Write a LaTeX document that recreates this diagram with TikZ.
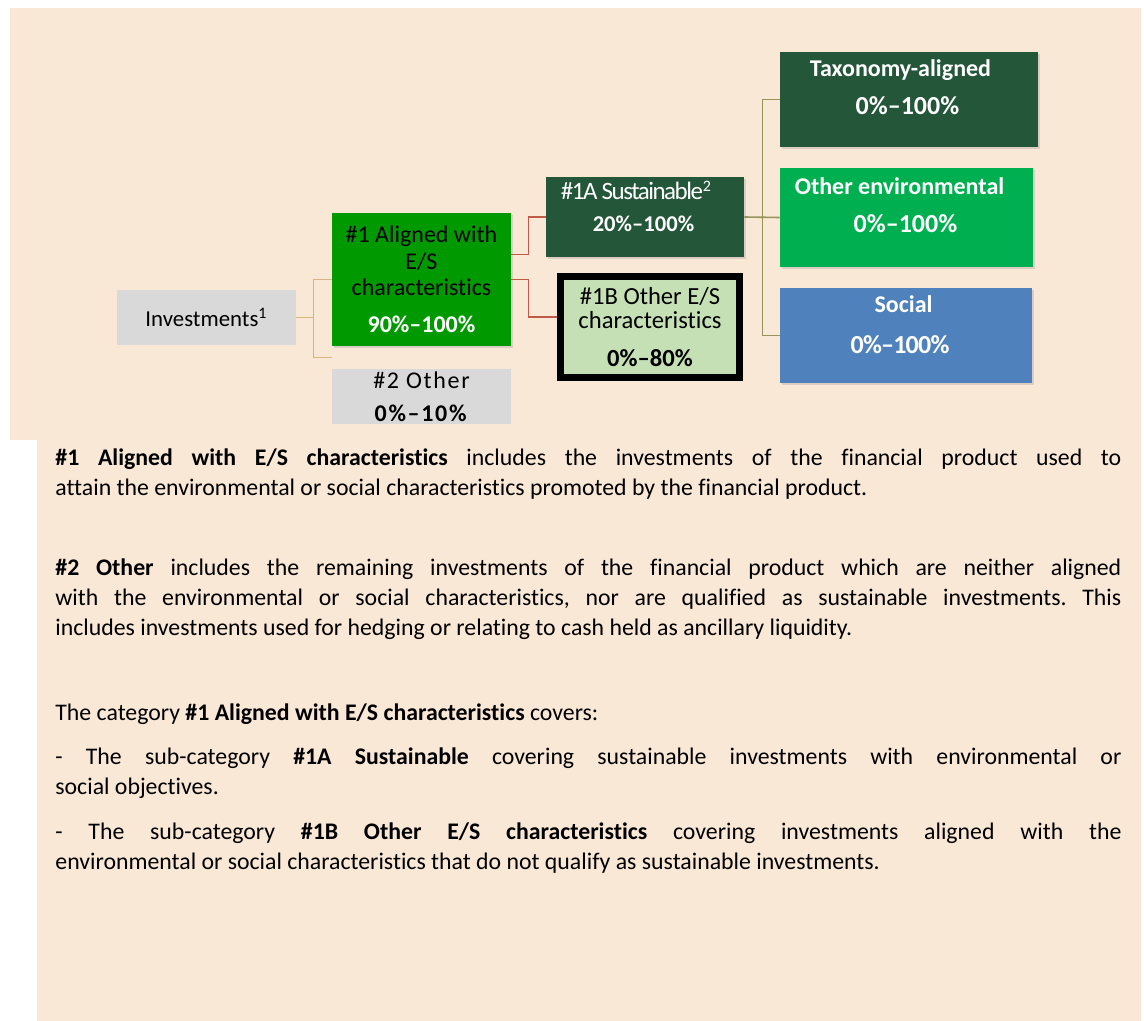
\documentclass[tikz,border=0pt]{standalone}
\usepackage{fontspec}
\setmainfont{Carlito}[Ligatures={TeX,NoCommon}]
\usetikzlibrary{positioning, calc, shadows}
\definecolor{pagebg}{RGB}{250, 232, 215}
\definecolor{greyfill}{RGB}{217, 217, 217}
\definecolor{alignedbg}{RGB}{0, 153, 0}
\definecolor{darkgreen}{RGB}{36, 86, 57}
\definecolor{envgreen}{RGB}{0, 176, 80}
\definecolor{socialblue}{RGB}{79, 129, 189}
\definecolor{otherbg}{RGB}{197, 224, 180}
\definecolor{tanline}{RGB}{214, 182, 128}
\definecolor{redline}{RGB}{190, 90, 70}
\definecolor{oliveline}{RGB}{150, 148, 90}
\tikzset{
    box/.style={rectangle, inner sep=0pt, align=center, font=\fontsize{12}{13.25}\selectfont},
    greybox/.style={box, fill=greyfill},
    colourbox/.style={box, drop shadow={opacity=0.25, shadow xshift=0.8pt, shadow yshift=-0.8pt}},
    boxname/.style={anchor=base, inner sep=0pt, text=white, font=\bfseries\fontsize{12}{14}\selectfont},
    boxpct/.style={anchor=base, inner sep=0pt, text=white, font=\bfseries\fontsize{13}{14}\selectfont},
    conn/.style={line width=0.8pt},
    bodytext/.style={anchor=north west, inner sep=0pt, text width=533pt, align=justify,
        font=\fontsize{11.9}{15}\selectfont, execute at begin node={\tolerance=10000\frenchspacing}}
}
\begin{document}
\begin{tikzpicture}[x=0.5pt, y=-0.5pt]

    \useasboundingbox (0,0) rectangle (1144,1021);

    % Background
    \fill[white] (0,0) rectangle (1144,1021);
    \fill[pagebg] (10,8) rectangle (1141,440);
    \fill[pagebg] (37,440) rectangle (1141,1021);

    % Left part
    \node (invest) [greybox, minimum width=89.5pt, minimum height=27.5pt, font=\fontsize{11.4}{13}\selectfont] at (206.5,317.5) {Investments\textsuperscript{\footnotesize 1}};
    \node (aligned) [colourbox, fill=alignedbg, minimum width=89.5pt, minimum height=66.5pt] at (421.5,279.5)
        {\#1 Aligned with\\E/S\\characteristics\\[5.25pt]\textcolor{white}{\textbf{90\%--100\%}}};
    \node (other2) [greybox, below=11pt of aligned, minimum width=89.5pt, minimum height=27.5pt,
        font=\fontsize{12}{16.5}\selectfont\addfontfeature{LetterSpace=7}] {\#2 Other\\\textbf{0\%--10\%}};

    % Middle part
    \node (sust) [colourbox, fill=darkgreen, minimum width=99pt, minimum height=40pt] at (645,217) {};
    \node (sustname) [anchor=base, inner sep=0pt, text=white, font=\fontsize{12.5}{14}\selectfont\addfontfeature{LetterSpace=-6}] at (636.5,200) {\#1A Sustainable\textsuperscript{\footnotesize 2}};
    \node (sustpct) [boxpct, font=\bfseries\fontsize{11.3}{14}\selectfont] at (643.5,232) {20\%--100\%};

    \node (oth1b) [box, fill=otherbg, draw=black, line width=3.75pt, minimum width=89.5pt, minimum height=50.5pt,
        font=\fontsize{12.3}{12}\selectfont] at (650,327) {\#1B Other E/S\\characteristics\\[7pt]\textbf{0\%--80\%}};

    % Right part
    \node (taxo) [colourbox, fill=darkgreen, minimum width=129pt, minimum height=47.5pt] at (909,99.5) {};
    \node (taxoname) [boxname] at (900.5,77) {Taxonomy-aligned};
    \node (taxopct) [boxpct] at (907.5,115) {0\%--100\%};

    \node (env) [colourbox, fill=envgreen, minimum width=126.5pt, minimum height=49.5pt] at (906.5,217.5) {};
    \node (envname) [boxname] at (899.5,195) {Other environmental};
    \node (envpct) [boxpct] at (905.5,233) {0\%--100\%};

    \node (social) [colourbox, fill=socialblue, minimum width=126pt, minimum height=47.5pt] at (906,335.5) {};
    \node (socialname) [boxname] at (903.5,313) {Social};
    \node (socialpct) [boxpct, font=\bfseries\fontsize{13}{14}\selectfont\addfontfeature{LetterSpace=-3}] at (900,353) {0\%--100\%};

    % Connectors
    \coordinate (investsplit) at ($(invest.east)+(17,0)$);
    \coordinate (investlow) at ($(aligned.south west)!0.5!(other2.north west)$);
    \draw [conn, tanline] (invest.east) -- (investsplit);
    \draw [conn, tanline] (aligned.west) -| (investsplit) |- (investlow);

    \draw [conn, redline] ([yshift=12.5pt]aligned.east) -- ++(17,0) |- (sust.west);
    \draw [conn, redline] (aligned.east) -- ++(17,0) |- ([yshift=5pt]oth1b.west);

    \coordinate (sustsplit) at ($(sust.east)+(18,0)$);
    \draw [conn, oliveline] (sust.east) -- (env.west);
    \draw [conn, oliveline] (taxo.west) -| (sustsplit) |- (social.west);

    % Explanations
    \node (para1) [bodytext] at (55,444.5) {\strut\textbf{\#1 Aligned with E/S characteristics} includes the investments of the financial product used to\linebreak attain the environmental or social characteristics promoted by the financial product.};
    \node (para2) [bodytext] at (55,554.5) {\strut\textbf{\#2 Other} includes the remaining investments of the financial product which are neither aligned\linebreak with the environmental or social characteristics, nor are qualified as sustainable investments. This\linebreak includes investments used for hedging or relating to cash held as ancillary liquidity.};
    \node (cat) [bodytext] at (55,699.5) {\strut The category \textbf{\#1 Aligned with E/S characteristics} covers:};
    \node (suba) [bodytext] at (55,743.5) {\strut- The sub-category \textbf{\#1A Sustainable} covering sustainable investments with environmental or\linebreak social objectives.};
    \node (subb) [bodytext] at (55,818.5) {\strut- The sub-category \textbf{\#1B Other E/S characteristics} covering investments aligned with the\linebreak environmental or social characteristics that do not qualify as sustainable investments.};

\end{tikzpicture}
\end{document}
